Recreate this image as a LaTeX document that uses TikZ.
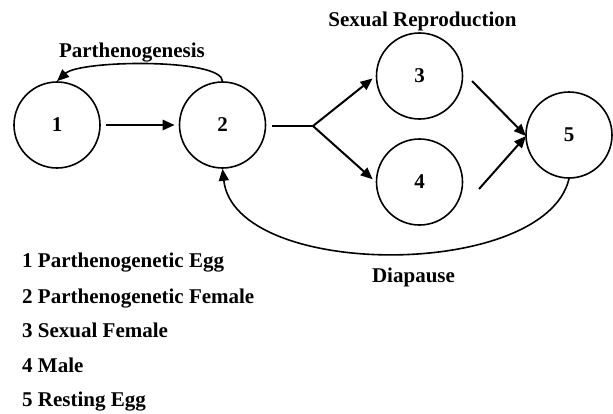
\documentclass[tikz,border=0pt]{standalone}
\usepackage{fontspec}
\setmainfont{Liberation Serif}
\usetikzlibrary{arrows.meta}
\begin{document}
\begin{tikzpicture}[x=1pt,y=-1pt,
  stage/.style={circle,draw,line width=1.6pt,minimum size=86pt,inner sep=0pt,font=\fontsize{21}{25}\selectfont\bfseries},
  lbl/.style={font=\fontsize{21}{25}\selectfont\bfseries,inner sep=0pt,anchor=base},
  leg/.style={font=\fontsize{21}{25}\selectfont\bfseries,inner sep=0pt,anchor=base west},
  tip/.style={-{Triangle[length=12pt,width=10pt]}},
  thickln/.style={line width=2.8pt},
  thinln/.style={line width=2pt},
  arcln/.style={line width=1.6pt}]
\useasboundingbox (0,0) rectangle (613,413);
\node[stage] (c1) at (57,125) {1};
\node[stage] (c2) at (222.5,125) {2};
\node[stage] (c3) at (419.5,76) {3};
\node[stage] (c4) at (419.5,182) {4};
\node[stage] (c5) at (569,135) {5};
\coordinate (b) at (313,126);
\coordinate (s3) at (472,81);
\coordinate (s4) at (479,189);
\coordinate (e5) at (526,136);
\draw[thickln,tip,shorten <=5pt,shorten >=4pt] (c1) -- (c2);
\draw[thickln] (c2.east) ++(6,1) -- (b);
\draw[thinln,tip,shorten >=4pt] (b) -- (c3.west);
\draw[thinln,tip,shorten >=4pt] (b) -- (c4.west);
\draw[thinln,tip] (s3) -- (e5);
\draw[thinln,tip] (s4) -- (e5);
\draw[arcln,tip] (c2.north) .. controls (222,58) and (80,60) .. (c1.north);
\draw[arcln,tip] (c5.south) .. controls (545,280) and (235,280) .. (c2.south);
\node[lbl] (t1) at (132,57) {Parthenogenesis};
\node[lbl] (t2) at (422.5,26) {Sexual Reproduction};
\node[lbl] (t3) at (413.5,282) {Diapause};
\node[leg] (l1) at (22,267) {1 Parthenogenetic Egg};
\node[leg] (l2) at (22,303) {2 Parthenogenetic Female};
\node[leg] (l3) at (22,337) {3 Sexual Female};
\node[leg] (l4) at (22,372) {4 Male};
\node[leg] (l5) at (22,406) {5 Resting Egg};
\end{tikzpicture}
\end{document}
